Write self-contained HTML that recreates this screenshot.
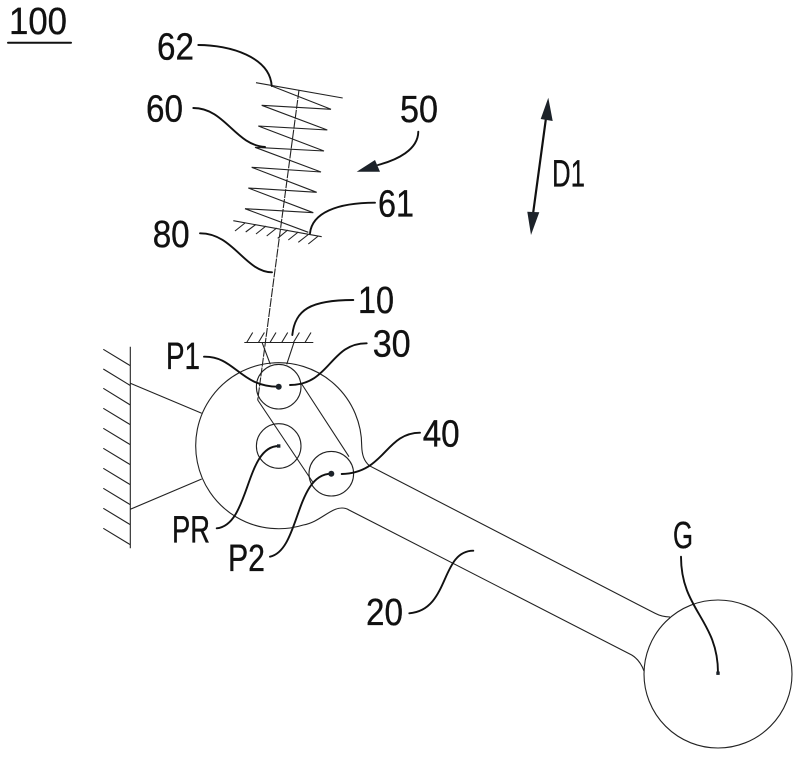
<!DOCTYPE html>
<html><head><meta charset="utf-8"><style>
html,body{margin:0;padding:0;background:#fff}
svg{display:block}
text{font-family:"Liberation Sans",sans-serif;fill:#111;stroke:#111;stroke-width:.35}
</style></head><body>
<svg width="800" height="758" viewBox="0 0 800 758" xmlns="http://www.w3.org/2000/svg">
<g fill="none" stroke="#222" stroke-width="1.1">
<!-- spring -->
<path d="M256 82.7L342.7 98"/>
<path d="M271.7 86L331 109.3L261.7 105.3L327.3 130L258.3 126L324 151L255 147.3L321 172L251.7 167.3L316.7 192.3L248.3 188L313.3 212.7L245 208.7L308.3 232.3"/>
<path d="M233.3 220.7L321.7 236.7"/>
<path d="M235 231L245 223M245.7 232L255.7 224.5M256 234L266 226M266.7 236L276.7 228M277.7 238.3L287.7 230M288.3 240L298.3 232M298.3 242.3L308.3 234.5M308.3 244L318.3 236"/>
<path d="M299 90L257.7 400" stroke-dasharray="9 1"/>
<!-- hatch 10 -->
<path d="M244.3 342.5H313.3"/>
<path d="M246.7 342.5L252.7 332.5M258.4 342.5L264.4 332.5M270 342.5L276 332.5M281.7 342.5L287.7 332.5M293.4 342.5L299.4 332.5M305 342.5L311 332.5"/>
<path d="M262 342.3L270.3 364.3M294 342.3L286.7 364.3"/>
<!-- circles -->
<circle cx="278.7" cy="386.7" r="22.3"/>
<circle cx="278.7" cy="446" r="22.3"/>
<circle cx="331.3" cy="473.7" r="22.3"/>
<circle cx="718" cy="674" r="74"/>
<!-- links -->
<path d="M257.7 400L312.7 482M301.7 384L349 456.7"/>
<!-- wall -->
<path d="M130.3 346.7V548.3"/>
<path d="M103.3 349.3L130.3 365.7M103.3 369L130.3 385.5M103.3 388.3L130.3 405M103.3 408.3L130.3 424.7M103.3 428.3L130.3 444.7M103.3 448.3L130.3 464.7M103.3 468.3L130.3 484.7M103.3 488.3L130.3 504.7M103.3 508.3L130.3 524.7M103.3 528.3L130.3 544.7"/>
<path d="M130.3 383.3L201.7 413.3M130.3 509.3L201.7 479"/>
<!-- body -->
<path d="M361.7 446A83 83 0 1 0 303.3 525C320 522 330 508 342 508Q346 508 349 510L631.7 655Q640 660 644 671"/>
<path d="M361.7 446C362 455 364 461 369.3 465.7L655 613.3Q662 617 670 617"/>
</g>
<!-- leaders -->
<g fill="none" stroke="#111" stroke-width="1.9" stroke-linecap="round">
<path d="M198.3 45C230 45 270 57 271.7 86"/>
<path d="M193.3 108C225 108 235 145 265 147"/>
<path d="M200 233.3C233 233 245 272 272 272.3"/>
<path d="M375 202.7C337 202.7 312 213 310 233.3"/>
<path d="M418.3 131.7C418 150 397 160 378 165"/>
<path d="M353.3 300C310 300 295 310 292.3 335"/>
<path d="M366.7 343.3C330 343 330 385 290 385"/>
<path d="M204 356.7C235 356 240 387 278.7 386.7"/>
<path d="M216.7 528.3C250 525 245 446 278.7 446"/>
<path d="M270 556.7C300 550 295 474 331.3 473.7"/>
<path d="M341.7 474C385 473 385 433 420 432.7"/>
<path d="M409.3 613.3C450 610 440 551 473.3 550.7"/>
<path d="M681 556.7C681 610 718 620 718 672.7"/>
<path d="M546 118L533 214" stroke-width="2.2"/>
<path d="M8 42.7H71" stroke-width="2"/>
</g>
<g fill="#1c2229" stroke="none">
<path d="M356.7 171.7L375 160L380 171.7Z"/>
<path d="M548.3 97.7L540.7 119L552.7 121Z"/>
<path d="M531 235L527.3 211.7L539.3 212.3Z"/>
<circle cx="278.7" cy="386.7" r="3"/>
<circle cx="331.3" cy="473.7" r="3"/>
<rect x="277" y="444.3" width="3.4" height="3.4"/>
<rect x="716.3" y="671.5" width="3.4" height="3.4"/>
</g>
<g font-size="38">
<text x="9" y="34" textLength="58" lengthAdjust="spacingAndGlyphs">100</text>
<text x="157" y="59.5" textLength="37" lengthAdjust="spacingAndGlyphs">62</text>
<text x="146" y="121.5" textLength="37" lengthAdjust="spacingAndGlyphs">60</text>
<text x="400" y="122" textLength="38" lengthAdjust="spacingAndGlyphs">50</text>
<text x="378" y="216.7" textLength="36" lengthAdjust="spacingAndGlyphs">61</text>
<text x="152.7" y="247" textLength="37" lengthAdjust="spacingAndGlyphs">80</text>
<text x="358" y="313" textLength="36" lengthAdjust="spacingAndGlyphs">10</text>
<text x="372.7" y="356.7" textLength="38" lengthAdjust="spacingAndGlyphs">30</text>
<text x="166" y="369" textLength="34" lengthAdjust="spacingAndGlyphs">P1</text>
<text x="172" y="542.7" textLength="38" lengthAdjust="spacingAndGlyphs">PR</text>
<text x="228" y="571" textLength="37" lengthAdjust="spacingAndGlyphs">P2</text>
<text x="422.7" y="446.7" textLength="37" lengthAdjust="spacingAndGlyphs">40</text>
<text x="366" y="625" textLength="37" lengthAdjust="spacingAndGlyphs">20</text>
<text x="673" y="548" textLength="20" lengthAdjust="spacingAndGlyphs">G</text>
<text x="552" y="186.7" textLength="33" lengthAdjust="spacingAndGlyphs">D1</text>
</g>
</svg>
</body></html>
